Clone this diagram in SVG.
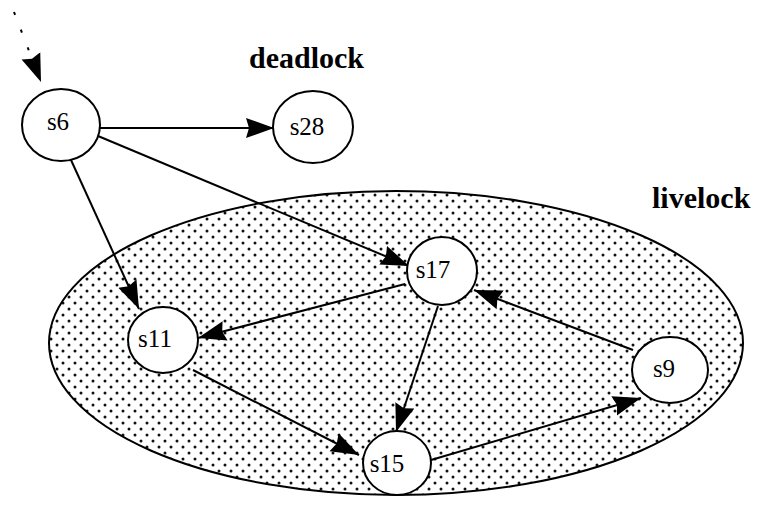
<svg xmlns="http://www.w3.org/2000/svg" width="757" height="510" viewBox="0 0 757 510">
  <defs>
    <pattern id="dots" patternUnits="userSpaceOnUse" width="12" height="12">
      <rect width="12" height="12" fill="#ffffff"/>
      <circle cx="3" cy="3" r="1.5" fill="#111"/>
      <circle cx="9" cy="9" r="1.5" fill="#111"/>
    </pattern>
    <marker id="arrow" markerUnits="userSpaceOnUse" markerWidth="30" markerHeight="22" refX="28" refY="11" orient="auto">
      <path d="M0,1 L28,11 L0,21 L3,11 z" fill="#000"/>
    </marker>
  </defs>
  <style>
    .node { fill: #fff; stroke: #000; stroke-width: 2; }
    .lbl { font-family: "Liberation Serif", "Times New Roman", serif; font-size: 25px; fill: #000; text-anchor: middle; }
    .title { font-family: "Liberation Serif", "Times New Roman", serif; font-size: 30px; font-weight: bold; fill: #000; }
    .edge { fill: none; stroke: #000; stroke-width: 2; marker-end: url(#arrow); }
  </style>
  <rect width="757" height="510" fill="#fff"/>
  <g id="livelock-region">
    <ellipse cx="396" cy="343" rx="347" ry="152" fill="url(#dots)" stroke="#000" stroke-width="2"/>
    <text class="title" x="652" y="208">livelock</text>
  </g>
  <text class="title" x="249" y="68">deadlock</text>
  <g id="connectors">
    <path class="edge" d="M14,12 L41,82" stroke-dasharray="3 16"/>
    <path class="edge" d="M100,128 L274,128"/>
    <path class="edge" d="M98,136 L409,266"/>
    <path class="edge" d="M71,160 L139,309"/>
    <path class="edge" d="M405,284 L198,338"/>
    <path class="edge" d="M438,306 L396,432"/>
    <path class="edge" d="M633,350 L474,290"/>
    <path class="edge" d="M193,370 L359,455"/>
    <path class="edge" d="M431,460 L641,398"/>
  </g>
  <g id="s6">
    <ellipse class="node" cx="61" cy="125" rx="39" ry="36"/>
    <text class="lbl" x="58" y="130">s6</text>
  </g>
  <g id="s28">
    <ellipse class="node" cx="313" cy="127" rx="40" ry="36"/>
    <text class="lbl" x="307" y="135">s28</text>
  </g>
  <g id="s17">
    <ellipse class="node" cx="442" cy="271" rx="35" ry="34"/>
    <text class="lbl" x="433" y="278">s17</text>
  </g>
  <g id="s11">
    <ellipse class="node" cx="163" cy="340" rx="35" ry="33"/>
    <text class="lbl" x="155" y="347">s11</text>
  </g>
  <g id="s15">
    <ellipse class="node" cx="397" cy="463" rx="34" ry="32"/>
    <text class="lbl" x="387" y="472">s15</text>
  </g>
  <g id="s9">
    <ellipse class="node" cx="670" cy="370" rx="38" ry="33"/>
    <text class="lbl" x="664" y="377">s9</text>
  </g>
</svg>
